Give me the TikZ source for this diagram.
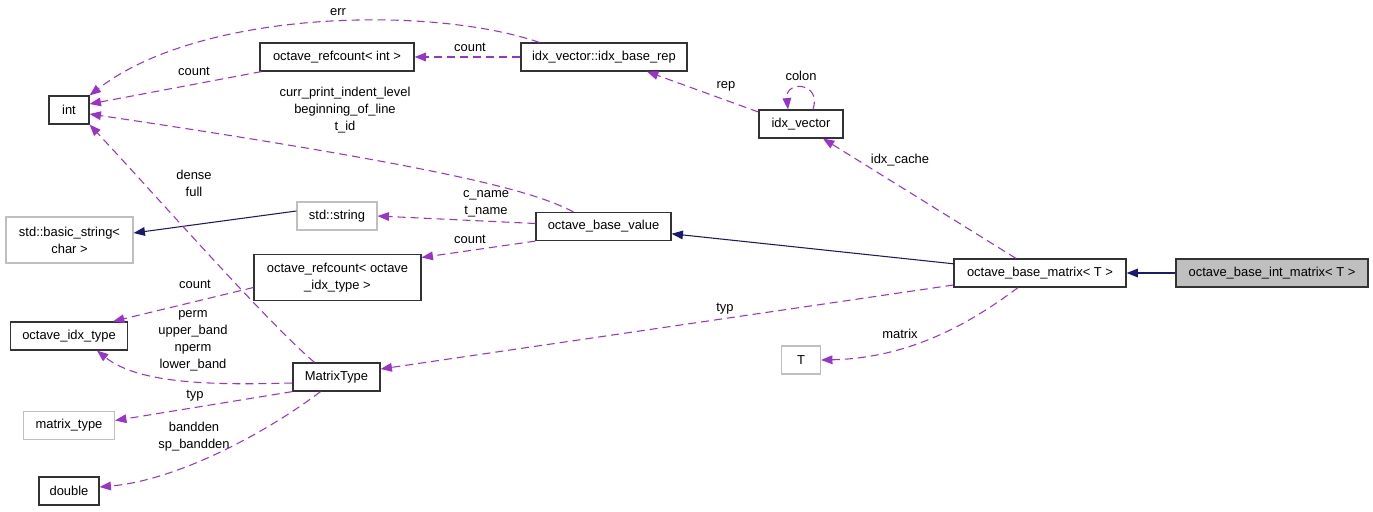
\documentclass[tikz,border=0pt]{standalone}
\usepackage{fontspec}
\setmainfont{Liberation Sans}
\usetikzlibrary{arrows.meta,calc}
\definecolor{relpurple}{HTML}{9A32CD}
\definecolor{inhnavy}{HTML}{191970}
\definecolor{extgray}{HTML}{BFBFBF}

\begin{document}
\begin{tikzpicture}[
  x=0.75pt, y=-0.75pt,
  font=\fontsize{9.7}{12.75}\selectfont,
  classbox/.style={draw=black!80, line width=0.9pt, align=center, minimum height=21pt,
                   inner sep=2pt},
  extbox/.style={classbox, draw=extgray},
  thisbox/.style={classbox, fill=extgray},
  inh/.style={-{Triangle[length=8.5pt,width=6.5pt]}, draw=inhnavy, line width=0.8pt},
  rel/.style={-{Triangle[length=8.5pt,width=6.5pt]}, draw=relpurple, line width=0.8pt,
              dash pattern=on 6pt off 3.75pt},
  lbl/.style={align=center, text=black, inner sep=0pt}
]
  \useasboundingbox (0,0) rectangle (1373,511);
  % classes
  \node[classbox, minimum width=30pt] (int) at (69,110) {int};
  \node[classbox, minimum width=115.5pt] (refint) at (337,57) {octave\_refcount< int >};
  \node[classbox, minimum width=124.5pt] (ibr) at (604,57) {idx\_vector::idx\_base\_rep};
  \node[classbox, minimum width=63pt] (iv) at (801,124) {idx\_vector};
  \node[extbox, minimum width=60pt] (str) at (337,216) {std::string};
  \node[extbox, minimum width=95.25pt, minimum height=34.5pt] (bstr) at (69.5,240)
        {std::basic\_string<\\char >};
  \node[classbox, minimum width=101.25pt] (obv) at (603.5,226.5) {octave\_base\_value};
  \node[classbox, minimum width=125.25pt, minimum height=34pt] (refidx) at (337.5,277.5)
        {octave\_refcount< octave\\\_idx\_type >};
  \node[classbox, minimum width=87.75pt] (idxtype) at (69,336) {octave\_idx\_type};
  \node[classbox, minimum width=65.25pt] (MT) at (336.5,377) {MatrixType};
  \node[extbox, minimum width=68.25pt] (mtype) at (69,425.5) {matrix\_type};
  \node[classbox, minimum width=45pt] (dbl) at (69,491) {double};
  \node[extbox, minimum width=29.25pt] (T) at (801,360) {T};
  \node[classbox, minimum width=129pt] (bm) at (1040,273) {octave\_base\_matrix< T >};
  \node[thisbox, minimum width=144pt] (bim) at (1272,273) {octave\_base\_int\_matrix< T >};
  % inheritance
  \draw[inh] (bim) -- (bm);
  \draw[inh] (bm) -- (obv);
  \draw[inh] ($(str.west)+(0,-5)$) -- ($(bstr.east)+(0,-7)$);
  % members of octave_base_matrix
  \draw[rel] ($(bm.north)+(-24,0)$) -- ($(iv.south)+(22,0)$)
        node[lbl] at (900,160) {idx\_cache};
  \draw[rel] ($(bm.west)+(0,12)$) -- ($(MT.east)+(0,-8)$)
        node[lbl] at (725,309) {typ};
  \draw[rel] ($(bm.south)+(-22,0)$) .. controls (985,312) and (920,358) .. (T.east)
        node[lbl] at (900,334) {matrix};
  % members of octave_base_value
  \draw[rel] ($(obv.north)+(-30,0)$) .. controls (540,195) and (480,172) .. ($(int.east)+(0,4)$)
        node[lbl] at (345,110) {curr\_print\_indent\_level\\beginning\_of\_line\\t\_id};
  \draw[rel] ($(obv.west)+(0,-3)$) -- (str.east)
        node[lbl] at (486,204) {c\_name\\t\_name};
  \draw[rel] (obv.south west) -- ($(refidx.east)+(0,-20)$)
        node[lbl] at (470,239) {count};
  % idx_vector and its rep
  \draw[rel] ($(iv.west)+(0,-12)$) -- ($(ibr.south)+(43,0)$)
        node[lbl] at (726,86) {rep};
  \draw[rel] ($(iv.north)+(12,0)$) .. controls (822,82) and (785,80) .. ($(iv.north)+(-13,0)$)
        node[lbl] at (801,76) {colon};
  \draw[rel] (ibr) -- (refint)
        node[lbl] at (470,47) {count};
  \draw[rel] ($(ibr.north west)+(19,0)$) .. controls (430,5) and (200,10) .. (int.north east)
        node[lbl] at (338,12) {err};
  \draw[rel] ($(refint.south west)+(2,0)$) -- ($(int.east)+(0,-6)$)
        node[lbl] at (194,71) {count};
  % members of MatrixType
  \draw[rel] ($(MT.north)+(-22,0)$) .. controls (265,320) and (160,200) .. (int.south east)
        node[lbl] at (194,183) {dense\\full};
  \draw[rel] ($(refidx.west)+(0,10)$) -- ($(idxtype.north)+(44,0)$)
        node[lbl] at (195,284) {count};
  \draw[rel] ($(MT.west)+(0,6)$) .. controls (220,385) and (140,385) .. ($(idxtype.south)+(28,0)$)
        node[lbl] at (193,341) {perm\\upper\_band\\nperm\\lower\_band};
  \draw[rel] (MT.south west) -- ($(mtype.east)+(0,-5)$)
        node[lbl] at (195,396) {typ};
  \draw[rel] ($(MT.south)+(-16,0)$) .. controls (270,430) and (180,480) .. ($(dbl.east)+(0,-4)$)
        node[lbl] at (194,437) {bandden\\sp\_bandden};
\end{tikzpicture}
\end{document}
